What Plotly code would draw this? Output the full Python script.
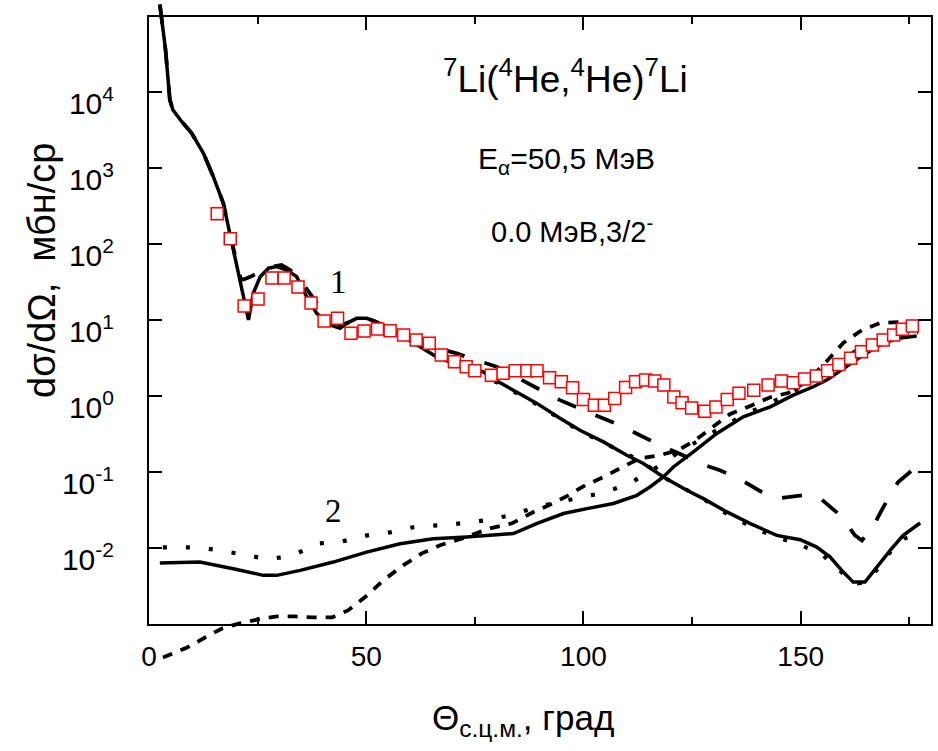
import plotly.graph_objects as go

# ---------------- data ----------------
# experimental points (red open squares)
theta_exp = [15.7, 18.7, 21.9, 25.1, 28.3, 31.1, 34.3, 37.3, 40.3, 43.4, 46.5, 49.5, 52.6, 55.5, 58.6,
             61.5, 64.5, 67.3, 70.3, 73.0, 75.0, 78.8, 81.5, 84.3, 87.0, 89.3, 92.2, 94.9, 97.5, 100.0,
             102.5, 104.8, 107.2, 109.7, 112.0, 114.3, 116.4, 118.5, 120.8, 122.7, 124.9, 127.9, 130.5,
             133.1, 135.8, 139.2, 142.5, 145.6, 148.3, 150.9, 153.6, 156.2, 158.8, 161.5, 164.0, 166.5,
             169.0, 171.4, 173.4, 175.7]
sigma_exp = [252, 118, 15.4, 19.1, 36.0, 36.0, 27.4, 16.9, 9.77, 10.6, 6.72, 7.21, 7.66, 7.27, 6.38,
             5.48, 4.96, 3.48, 2.84, 2.44, 2.16, 1.89, 2.00, 2.16, 2.16, 2.16, 1.75, 1.55, 1.29, 0.906,
             0.762, 0.762, 0.933, 1.30, 1.55, 1.63, 1.59, 1.40, 0.979, 0.817, 0.701, 0.635, 0.723,
             0.906, 1.09, 1.20, 1.40, 1.59, 1.50, 1.68, 1.84, 2.16, 2.62, 3.15, 3.85, 4.71,
             5.48, 6.38, 7.59, 8.39]

# curve 1, solid
theta_s1 = [2.5, 3.8, 4.8, 5.5, 7.5, 9.8, 12.5, 14.8, 17.1, 18.6, 20.2, 21.7, 22.9, 24.0, 25.6, 27.5,
            29.4, 31.7, 34.0, 36.3, 38.6, 41.7, 44.0, 45.5, 47.8, 50.1, 52.4, 55.5, 58.5, 62.4, 66.2,
            70.1, 76.9, 80.4, 89.2, 94.6, 99.2, 104.6, 110.0, 113.8, 118.4, 123.8, 127.6, 133.0, 138.4,
            144.5, 149.9, 153.7, 156.8, 159.8, 162.1, 164.8, 167.5, 170.6, 173.6, 177.5]
sigma_s1 = [1.44e5, 3.66e4, 8.0e3, 5.9e3, 4.15e3, 2.92e3, 1.59e3, 781, 348, 141, 56.3, 20.4, 10.1, 22.6,
            37.5, 48.4, 50.8, 45.9, 37.5, 20.4, 12.3, 8.65, 7.82, 9.10, 10.6, 10.6, 9.55, 7.43, 6.06,
            4.48, 3.30, 2.70, 2.09, 1.55, 0.81, 0.513, 0.356, 0.250, 0.167, 0.130, 0.0863, 0.0577,
            0.0448, 0.0299, 0.0210, 0.0147, 0.0129, 0.0103, 0.0076, 0.00483, 0.00356, 0.00356,
            0.00561, 0.00933, 0.0147, 0.0214]

# curve 1, long dashes
theta_d1 = [2.5, 3.8, 4.8, 5.5, 7.5, 9.8, 12.5, 14.8, 17.1, 18.6, 20.2, 21.2, 22.1, 23.7, 25.6, 27.9,
            30.5, 32.5, 34.8, 38.6, 41.7, 44.0, 46.3, 50.1, 55.5, 60.1, 66.2, 70.8, 76.0, 80.0, 85.4,
            89.6, 94.6, 98.5, 103.8, 108.0, 113.0, 117.2, 123.8, 126.4, 131.4, 135.7, 140.7, 144.9,
            150.3, 154.5, 159.1, 162.5, 164.1, 166.7, 169.0, 172.4, 176.7]
sigma_d1 = [1.44e5, 3.66e4, 8.0e3, 5.9e3, 4.15e3, 2.92e3, 1.59e3, 781, 348, 141, 56.3, 33.9, 35.0, 38.3,
            43.2, 50.3, 53.5, 45.9, 33.9, 16.9, 11.1, 8.65, 9.47, 10.7, 7.89, 5.82, 4.30, 3.66, 2.90,
            2.44, 1.68, 1.26, 0.887, 0.711, 0.530, 0.422, 0.306, 0.233, 0.158, 0.132, 0.106, 0.083,
            0.056, 0.0452, 0.0495, 0.0452, 0.0270, 0.0147, 0.0126, 0.0193, 0.0344, 0.0734, 0.119]

# curve 1, dotted (runs along the solid one)
theta_p1 = [70.1, 80.4, 89.2, 99.2, 105.0, 113.4, 118.4, 127.5, 132.8, 138.4, 144.5, 149.2, 154.9,
            160.7, 163.2, 165.5, 168.3, 171.3, 174.0, 176.8]
sigma_p1 = [2.57, 1.49, 0.785, 0.346, 0.238, 0.139, 0.0855, 0.0446, 0.0287, 0.0193, 0.0138, 0.0115,
            0.00826, 0.00411, 0.00342, 0.00364, 0.00592, 0.00991, 0.0134, 0.0152]

# curve 2, solid
theta_s2 = [2.5, 11.7, 19.4, 26.3, 29.4, 34.8, 42.4, 50.1, 57.8, 65.4, 73.1, 78.5, 83.9, 89.2, 95.4,
            100.8, 106.9, 112.3, 115.3, 118.4, 120.7, 125.3, 130.7, 136.8, 143.0, 148.3, 152.9, 156.0,
            160.6, 164.4, 168.3, 172.1, 176.7]
sigma_s2 = [0.00634, 0.00654, 0.00535, 0.00437, 0.00437, 0.00508, 0.00654, 0.00885, 0.0114, 0.0133,
            0.0140, 0.0147, 0.0155, 0.0210, 0.0285, 0.0331, 0.0386, 0.0495, 0.0637, 0.0863, 0.117,
            0.185, 0.323, 0.535, 0.723, 1.03, 1.33, 1.63, 2.44, 3.48, 4.71, 5.77, 6.19]

# curve 2, short dashes
theta_d2 = [3.2, 8.8, 12.9, 16.8, 20.9, 25.1, 29.5, 33.6, 37.8, 42.1, 45.8, 50.2, 53.9, 58.5, 62.8,
            67.0, 72.1, 78.5, 83.6, 88.4, 93.0, 96.5, 100.4, 104.5, 108.9, 113.0, 117.6, 121.8, 125.7,
            129.8, 133.7, 138.8, 143.0, 147.1, 151.5, 155.6, 159.8, 164.1, 168.3, 172.4, 176.8]
sigma_d2 = [3.62e-4, 4.90e-4, 6.64e-4, 8.73e-4, 1.02e-3, 1.15e-3, 1.26e-3, 1.26e-3, 1.22e-3, 1.22e-3,
            1.51e-3, 2.38e-3, 3.75e-3, 5.91e-3, 8.51e-3, 0.0109, 0.0134, 0.0182, 0.0212, 0.0296,
            0.0388, 0.0495, 0.0671, 0.0855, 0.116, 0.152, 0.167, 0.194, 0.263, 0.391, 0.580, 0.762,
            0.970, 1.10, 1.58, 2.73, 5.01, 7.43, 9.19, 9.47, 8.91]

# curve 2, dotted
theta_p2 = [3.2, 11.0, 16.3, 22.1, 27.6, 33.1, 38.9, 44.4, 50.2, 55.5, 60.8, 66.3, 72.1, 77.3, 83.1,
            88.4, 93.9, 99.7, 105.0, 110.7, 116.5, 122.2, 126.8, 131.4, 137.2, 143.0, 149.2, 154.5,
            160.2, 166.0, 171.3, 177.0]
sigma_p2 = [0.0102, 0.0102, 0.00933, 0.00801, 0.00710, 0.00801, 0.0115, 0.0122, 0.0147, 0.0161,
            0.0188, 0.0199, 0.0212, 0.0232, 0.0270, 0.0334, 0.0401, 0.0467, 0.0543, 0.0713, 0.112,
            0.188, 0.263, 0.379, 0.580, 0.809, 1.24, 1.89, 3.18, 5.16, 6.38, 6.99]

x_ticks = [0, 50, 100, 150]
y_tick_vals = [1e-2, 1e-1, 1e0, 1e1, 1e2, 1e3, 1e4]
y_tick_text = ["10<sup>-2</sup>", "10<sup>-1</sup>", "10<sup>0</sup>", "10<sup>1</sup>",
               "10<sup>2</sup>", "10<sup>3</sup>", "10<sup>4</sup>"]

# ---------------- layout geometry ----------------
W, H = 938, 751
ML, MR, MT, MB = 149, 7, 0, 71
PW, PH = W - ML - MR, H - MT - MB
FRAME_TOP, FRAME_BOT = 16.5, 624.0
LOG_LO, LOG_HI = -3, 5
dpp = (LOG_HI - LOG_LO) / (FRAME_BOT - FRAME_TOP)
ext_hi = LOG_HI + (FRAME_TOP - MT) * dpp
ext_lo = LOG_LO - (MT + PH - FRAME_BOT) * dpp
frame_dom = [(MT + PH - FRAME_BOT) / PH, (MT + PH - FRAME_TOP) / PH]


def pxx(x):
    return (x - ML) / PW


def pyy(y):
    return (MT + PH - y) / PH


FONT = "Liberation Sans, Arial, sans-serif"
SERIF = "Liberation Serif, Times New Roman, serif"

fig = go.Figure()

# curves on an invisible, taller subplot so they may run past the frame
fig.add_trace(go.Scatter(x=theta_p1, y=sigma_p1, mode="lines", xaxis="x", yaxis="y",
                         line=dict(color="black", width=4, dash="4px,18px"), hoverinfo="skip"))
fig.add_trace(go.Scatter(x=theta_d1, y=sigma_d1, mode="lines", xaxis="x", yaxis="y",
                         line=dict(color="black", width=3.8, dash="20px,21px"), hoverinfo="skip"))
fig.add_trace(go.Scatter(x=theta_s1, y=sigma_s1, mode="lines", xaxis="x", yaxis="y",
                         line=dict(color="black", width=3.5), hoverinfo="skip"))
fig.add_trace(go.Scatter(x=theta_p2, y=sigma_p2, mode="lines", xaxis="x", yaxis="y",
                         line=dict(color="black", width=4.2, dash="4px,19px"), hoverinfo="skip"))
fig.add_trace(go.Scatter(x=theta_d2, y=sigma_d2, mode="lines", xaxis="x", yaxis="y",
                         line=dict(color="black", width=3.8, dash="10px,9px"), hoverinfo="skip"))
fig.add_trace(go.Scatter(x=theta_s2, y=sigma_s2, mode="lines", xaxis="x", yaxis="y",
                         line=dict(color="black", width=3.5), hoverinfo="skip"))

# experimental points in the framed subplot
fig.add_trace(go.Scatter(x=theta_exp, y=sigma_exp, mode="markers", xaxis="x2", yaxis="y2",
                         marker=dict(symbol="square", size=12, color="white",
                                     line=dict(color="rgb(255,0,0)", width=1.5))))

fig.update_layout(
    width=W, height=H,
    margin=dict(l=ML, r=MR, t=MT, b=MB),
    paper_bgcolor="white", plot_bgcolor="rgba(0,0,0,0)",
    showlegend=False,
    font=dict(family=FONT, color="black"),
    xaxis=dict(domain=[0, 1], range=[0, 180], visible=False, anchor="y"),
    yaxis=dict(domain=[0, 1], type="log", range=[ext_lo, ext_hi], visible=False, anchor="x"),
    xaxis2=dict(domain=[0, 1], range=[0, 180], anchor="y2",
                showline=True, linecolor="black", linewidth=2, mirror="ticks",
                ticks="inside", ticklen=13, tickwidth=2, tickcolor="black",
                tickvals=x_ticks, showgrid=False, zeroline=False,
                tickfont=dict(size=28, family=FONT, color="black"), ticklabelstandoff=6,
                minor=dict(tickmode="linear", tick0=0, dtick=25, ticks="inside", ticklen=7,
                           tickwidth=2, tickcolor="black", showgrid=False)),
    yaxis2=dict(domain=frame_dom, type="log", range=[LOG_LO, LOG_HI], anchor="x2",
                showline=True, linecolor="black", linewidth=2, mirror="ticks",
                ticks="inside", ticklen=13, tickwidth=2, tickcolor="black",
                tickvals=y_tick_vals, ticktext=y_tick_text, showgrid=False, zeroline=False,
                tickfont=dict(size=30, family=FONT, color="black"),
                ticklabelstandoff=27, ticklabelshift=11),
)

ann = [
    dict(text="<sup>7</sup>Li(<sup>4</sup>He,<sup>4</sup>He)<sup>7</sup>Li", x=pxx(565), y=pyy(76),
         xanchor="center", yanchor="middle", font=dict(size=37, family=FONT)),
    dict(text="E<sub>α</sub>=50,5 МэВ", x=pxx(476), y=pyy(160), xanchor="left", yanchor="middle",
         font=dict(size=30, family=FONT)),
    dict(text="0.0 МэВ,3/2<sup>-</sup>", x=pxx(489), y=pyy(230), xanchor="left", yanchor="middle",
         font=dict(size=29, family=FONT)),
    dict(text="1", x=pxx(338), y=pyy(282), xanchor="center", yanchor="middle",
         font=dict(size=33, family=SERIF)),
    dict(text="2", x=pxx(333), y=pyy(511), xanchor="center", yanchor="middle",
         font=dict(size=33, family=SERIF)),
    dict(text="dσ/dΩ,\u00a0\u00a0мбн/ср", x=pxx(42), y=pyy(270), xanchor="center", yanchor="middle",
         textangle=-90, font=dict(size=38, family=FONT)),
    dict(text="Θ<sub>с.ц.м.</sub>, град", x=pxx(430), y=pyy(720), xanchor="left", yanchor="middle",
         font=dict(size=35, family=FONT)),
]
for a in ann:
    a.update(xref="paper", yref="paper", showarrow=False)
fig.update_layout(annotations=ann)

fig.write_html("out.html")
